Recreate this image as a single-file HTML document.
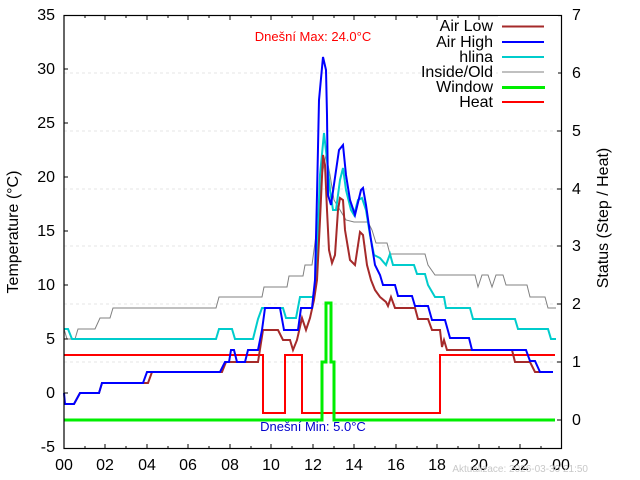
<!DOCTYPE html>
<html><head><meta charset="utf-8"><style>
body{margin:0;background:#fff}
svg{display:block;font-family:"Liberation Sans",sans-serif}
</style></head><body>
<svg width="640" height="480" viewBox="0 0 640 480">
<g stroke="#e6e6e6" stroke-width="1" stroke-dasharray="3,3">
<line x1="64" x2="561" y1="73" y2="73"/><line x1="64" x2="561" y1="131" y2="131"/><line x1="64" x2="561" y1="189" y2="189"/><line x1="64" x2="561" y1="246" y2="246"/><line x1="64" x2="561" y1="304" y2="304"/><line x1="64" x2="561" y1="362" y2="362"/>
</g>
<g font-size="16" fill="#000" text-anchor="end">
<text x="55" y="20">35</text><text x="55" y="74">30</text><text x="55" y="128">25</text><text x="55" y="182">20</text><text x="55" y="236">15</text><text x="55" y="290">10</text><text x="55" y="344">5</text><text x="55" y="398">0</text><text x="55" y="452">-5</text>
</g>
<g font-size="16" text-anchor="start">
<text x="572" y="20">7</text><text x="572" y="78">6</text><text x="572" y="136">5</text><text x="572" y="194">4</text><text x="572" y="251">3</text><text x="572" y="309">2</text><text x="572" y="367">1</text><text x="572" y="425">0</text>
</g>
<g font-size="16" text-anchor="middle">
<text x="64" y="470">00</text><text x="105" y="470">02</text><text x="147" y="470">04</text><text x="188" y="470">06</text><text x="230" y="470">08</text><text x="271" y="470">10</text><text x="313" y="470">12</text><text x="354" y="470">14</text><text x="396" y="470">16</text><text x="437" y="470">18</text><text x="479" y="470">20</text><text x="520" y="470">22</text><text x="561" y="470">00</text>
</g>
<text transform="translate(18,232) rotate(-90)" font-size="16" text-anchor="middle">Temperature (°C)</text>
<text transform="translate(608,218) rotate(-90)" font-size="16" text-anchor="middle">Status (Step / Heat)</text>
<g fill="none" stroke-linejoin="miter">
<polyline stroke="#ff0000" stroke-width="2" points="64,355 263,355 263,413 285,413 285,355 302,355 302,413 440,413 440,355 555,355"/>
<polyline stroke="#00ee00" stroke-width="3" points="64,420 322,420 322,362 326,362 326,303 331,303 331,362 334,362 334,420 555,420"/>
<polyline stroke="#808080" stroke-width="1" points="64,329 67,339 75,339 78,329 95,329 100,318 110,318 113,308 216,308 219,297 262,297 264,287 287,287 289,276 303,276 305,265 312,265 318,220 322,175 326,155 330,175 334,200 340,210 346,220 354,222 368,222 372,230 376,243 387,243 390,254 425,254 428,265 435,275 475,275 478,287 482,275 488,275 492,287 496,275 503,275 506,285 527,285 530,297 545,297 548,308 556,308"/>
<polyline stroke="#00cccc" stroke-width="2" points="64,329 68,329 72,339 216,339 219,329 232,329 235,339 253,339 258,319 262,308 283,308 286,318 296,318 300,297 313,297 316,280 320,175 324,133 327,160 330,190 333,210 336,210 340,180 343,168 346,190 351,210 354,215 358,200 362,198 366,210 370,235 374,255 380,258 386,265 390,254 393,265 414,265 417,274 425,274 428,285 435,297 444,297 446,308 470,308 473,319 515,319 518,329 548,329 551,339 556,339"/>
<polyline stroke="#a52a2a" stroke-width="2" points="64,404 66,404 74,404 80,393 99,393 102,383 148,383 152,372 222,372 226,362 258,362 263,330 278,330 283,340 290,340 293,350 297,340 302,318 306,330 310,318 314,300 317,280 320,220 323,155 325,165 327,210 329,250 332,263 335,255 338,210 340,198 343,200 345,230 350,260 355,265 360,232 363,235 367,265 371,280 375,290 380,297 386,302 388,306 391,297 395,308 415,308 418,319 428,319 432,330 440,330 442,347 444,340 447,350 512,350 515,362 530,362 535,372 553,372"/>
<polyline stroke="#0000ff" stroke-width="2" points="64,393 65,404 74,404 80,393 99,393 102,383 143,383 147,372 220,372 225,362 229,362 231,350 234,350 237,362 245,362 248,350 258,350 262,330 265,308 280,308 284,330 298,330 301,308 312,308 315,280 317,195 319,100 323,57 326,70 327,115 328,195 331,205 339,150 343,145 346,175 350,200 355,215 361,190 363,188 366,205 371,240 375,265 380,275 383,285 395,285 398,296 412,296 415,306 428,306 432,320 445,320 450,338 469,338 472,350 526,350 530,361 535,361 540,372 553,372"/>
</g>
<rect x="64" y="15.5" width="497.5" height="433" fill="none" stroke="#000" stroke-width="1.2"/>
<g stroke="#000" stroke-width="1">
<path d="M64 69h4M64 123h4M64 177h4M64 231h4M64 285h4M64 339h4M64 393h4M561 73h-4M561 131h-4M561 189h-4M561 246h-4M561 304h-4M561 362h-4M561 420h-4"/>
<path d="M105 449v-5M147 449v-5M188 449v-5M230 449v-5M271 449v-5M313 449v-5M354 449v-5M396 449v-5M437 449v-5M479 449v-5M520 449v-5M85 449v-3M126 449v-3M168 449v-3M209 449v-3M251 449v-3M292 449v-3M334 449v-3M375 449v-3M417 449v-3M458 449v-3M499 449v-3M541 449v-3"/>
<path d="M105 15v5M147 15v5M188 15v5M230 15v5M271 15v5M313 15v5M354 15v5M396 15v5M437 15v5M479 15v5M520 15v5M85 15v3M126 15v3M168 15v3M209 15v3M251 15v3M292 15v3M334 15v3M375 15v3M417 15v3M458 15v3M499 15v3M541 15v3"/>
</g>
<rect x="498" y="16" width="60" height="96" fill="#fff"/>
<g font-size="16" text-anchor="end">
<text x="493" y="31">Air Low</text><text x="493" y="47">Air High</text><text x="493" y="62">hlina</text><text x="493" y="77">Inside/Old</text><text x="493" y="92">Window</text><text x="493" y="107">Heat</text>
</g>
<g stroke-width="2">
<line x1="502" x2="544" y1="26.5" y2="26.5" stroke="#a52a2a"/>
<line x1="502" x2="544" y1="42" y2="42" stroke="#0000ff"/>
<line x1="502" x2="544" y1="57" y2="57" stroke="#00cccc"/>
<line x1="502" x2="544" y1="72" y2="72" stroke="#808080" stroke-width="1"/>
<line x1="502" x2="545" y1="87.5" y2="87.5" stroke="#00ee00" stroke-width="3"/>
<line x1="502" x2="544" y1="102" y2="102" stroke="#ff0000"/>
</g>
<text x="313" y="41" font-size="13" fill="#ff0000" text-anchor="middle">Dnešní Max: 24.0°C</text>
<text x="313" y="431" font-size="13" fill="#0000cc" text-anchor="middle">Dnešní Min: 5.0°C</text>
<text x="588" y="472" font-size="10" fill="#c8c8c8" text-anchor="end">Aktualizace: 2026-03-30 21:50</text>
</svg>
</body></html>
